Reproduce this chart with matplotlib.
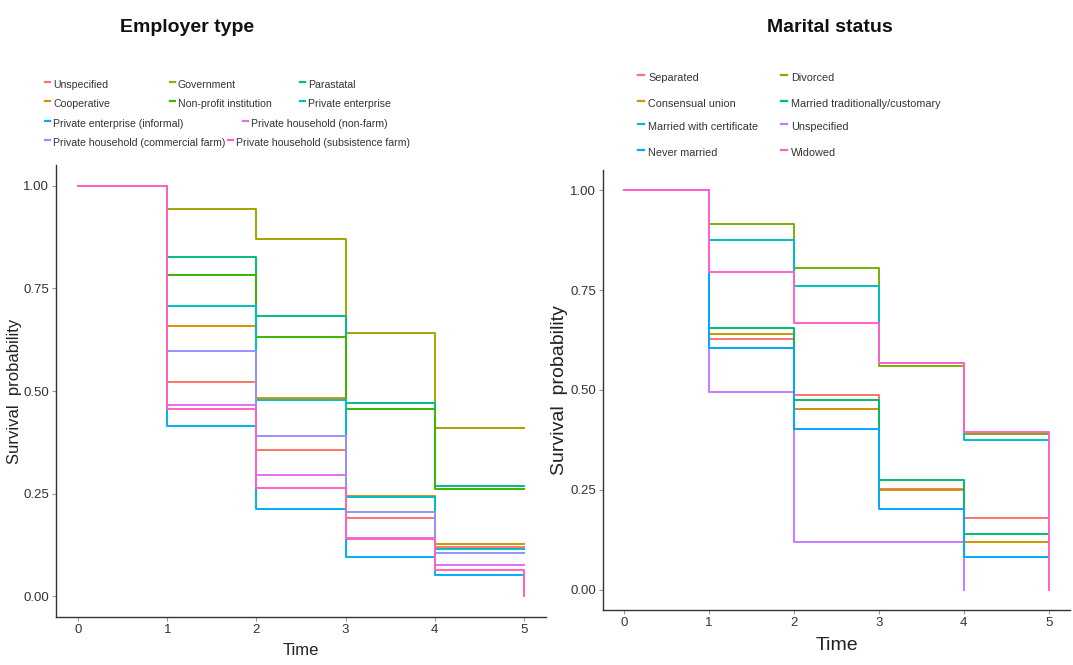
import matplotlib
matplotlib.use("Agg")
import matplotlib.pyplot as plt
from matplotlib.lines import Line2D

plt.rcParams['font.family'] = ['Liberation Sans', 'DejaVu Sans']

times = [0, 1, 2, 3, 4, 5]

# ---- Employer type ----
emp_labels = ["Unspecified", "Government", "Parastatal", "Cooperative",
              "Non-profit institution", "Private enterprise",
              "Private enterprise (informal)", "Private household (non-farm)",
              "Private household (commercial farm)", "Private household (subsistence farm)"]
emp_colors = ["#F8766D", "#A3A500", "#00BF7D", "#D89000", "#39B600", "#00BFC4",
              "#00B0F6", "#E76BF3", "#9590FF", "#FF62BC"]
emp_unspecified = [1.0, 0.523, 0.356, 0.191, 0.121, 0.121]
emp_government = [1.0, 0.944, 0.869, 0.642, 0.409, 0.409]
emp_parastatal = [1.0, 0.826, 0.683, 0.470, 0.269, 0.269]
emp_cooperative = [1.0, 0.659, 0.482, 0.244, 0.128, 0.128]
emp_nonprofit = [1.0, 0.782, 0.632, 0.455, 0.262, 0.262]
emp_private = [1.0, 0.707, 0.477, 0.241, 0.115, 0.115]
emp_informal = [1.0, 0.414, 0.213, 0.097, 0.051, 0.051]
emp_nonfarm = [1.0, 0.467, 0.295, 0.143, 0.077, 0.077]
emp_commercial = [1.0, 0.598, 0.390, 0.206, 0.106, 0.106]
emp_subsistence = [1.0, 0.455, 0.264, 0.140, 0.065, 0.0]
emp_values = [emp_unspecified, emp_government, emp_parastatal, emp_cooperative,
              emp_nonprofit, emp_private, emp_informal, emp_nonfarm,
              emp_commercial, emp_subsistence]

# ---- Marital status ----
mar_labels = ["Separated", "Divorced", "Consensual union", "Married traditionally/customary",
              "Married with certificate", "Unspecified", "Never married", "Widowed"]
mar_colors = ["#F8766D", "#7CAE00", "#CD9600", "#00BE67", "#00BFC4", "#C77CFF",
              "#00A9FF", "#FF61CC"]
mar_separated = [1.0, 0.627, 0.487, 0.252, 0.179, 0.179]
mar_divorced = [1.0, 0.914, 0.804, 0.560, 0.390, 0.390]
mar_consensual = [1.0, 0.640, 0.453, 0.249, 0.121, 0.121]
mar_traditional = [1.0, 0.655, 0.476, 0.275, 0.141, 0.141]
mar_certificate = [1.0, 0.874, 0.761, 0.567, 0.375, 0.375]
mar_unspecified = [1.0, 0.496, 0.121, 0.121, 0.0]
mar_never = [1.0, 0.605, 0.403, 0.202, 0.083, 0.083]
mar_widowed = [1.0, 0.796, 0.667, 0.567, 0.395, 0.0]
mar_values = [mar_separated, mar_divorced, mar_consensual, mar_traditional,
              mar_certificate, mar_unspecified, mar_never, mar_widowed]

yticks = [0.0, 0.25, 0.5, 0.75, 1.0]
yticklabels = ["0.00", "0.25", "0.50", "0.75", "1.00"]

fig = plt.figure(figsize=(10.73, 6.65), dpi=100)
W, H = 1073, 665


def px_axes(l, t, r, b):
    return fig.add_axes([l / W, (H - b) / H, (r - l) / W, (b - t) / H])


def style(ax, lab_size, tick_size, pad):
    ax.set_xlim(-0.25, 5.25)
    ax.set_ylim(-0.05, 1.05)
    ax.set_xticks(times)
    ax.set_yticks(yticks)
    ax.set_yticklabels(yticklabels)
    for s in ["top", "right"]:
        ax.spines[s].set_visible(False)
    for s in ["left", "bottom"]:
        ax.spines[s].set_color("#333333")
        ax.spines[s].set_linewidth(1.0)
    ax.tick_params(axis="both", colors="#999999", labelcolor="#333333",
                   labelsize=tick_size, length=3, width=0.8, pad=2)
    ax.set_xlabel("Time", fontsize=lab_size, color="#222222", labelpad=pad)
    ax.set_ylabel("Survival  probability", fontsize=lab_size, color="#222222")


ax1 = px_axes(56, 165, 546, 617)
for vals, col in zip(emp_values, emp_colors):
    ax1.step(times[:len(vals)], vals, where="post", color=col, lw=1.4)
style(ax1, 12, 9.5, 5)
ax1.yaxis.set_label_coords(-0.07, 0.5)

ax2 = px_axes(603, 170, 1070, 610)
for vals, col in zip(mar_values, mar_colors):
    ax2.step(times[:len(vals)], vals, where="post", color=col, lw=1.4)
style(ax2, 14, 9.5, 6)
ax2.yaxis.set_label_coords(-0.076, 0.5)

# Titles
fig.text(187 / W, 1 - 28 / H, "Employer type", ha="center", va="center",
         fontsize=14, fontweight="bold", color="#111111")
fig.text(830 / W, 1 - 28 / H, "Marital status", ha="center", va="center",
         fontsize=14, fontweight="bold", color="#111111")

# Legends (manual layout, ggplot-like)
emp_pos = [(45, 85), (170, 85), (300, 85), (45, 104), (170, 104), (300, 104),
           (45, 124), (243, 124), (45, 143), (228, 143)]
for (x, y), lab, col in zip(emp_pos, emp_labels, emp_colors):
    fig.add_artist(Line2D([x / W, (x + 5) / W], [1 - (y - 3) / H, 1 - (y - 3) / H],
                          color=col, lw=1.6, transform=fig.transFigure))
    fig.text((x + 8) / W, 1 - y / H, lab, ha="left", va="center", fontsize=7.6,
             color="#333333")

mar_pos = [(638, 78), (781, 78), (638, 104), (781, 104), (638, 127), (781, 127),
           (638, 153), (781, 153)]
for (x, y), lab, col in zip(mar_pos, mar_labels, mar_colors):
    fig.add_artist(Line2D([x / W, (x + 6) / W], [1 - (y - 3) / H, 1 - (y - 3) / H],
                          color=col, lw=1.6, transform=fig.transFigure))
    fig.text((x + 10) / W, 1 - y / H, lab, ha="left", va="center", fontsize=7.8,
             color="#333333")

fig.savefig("out.png", dpi=100)
